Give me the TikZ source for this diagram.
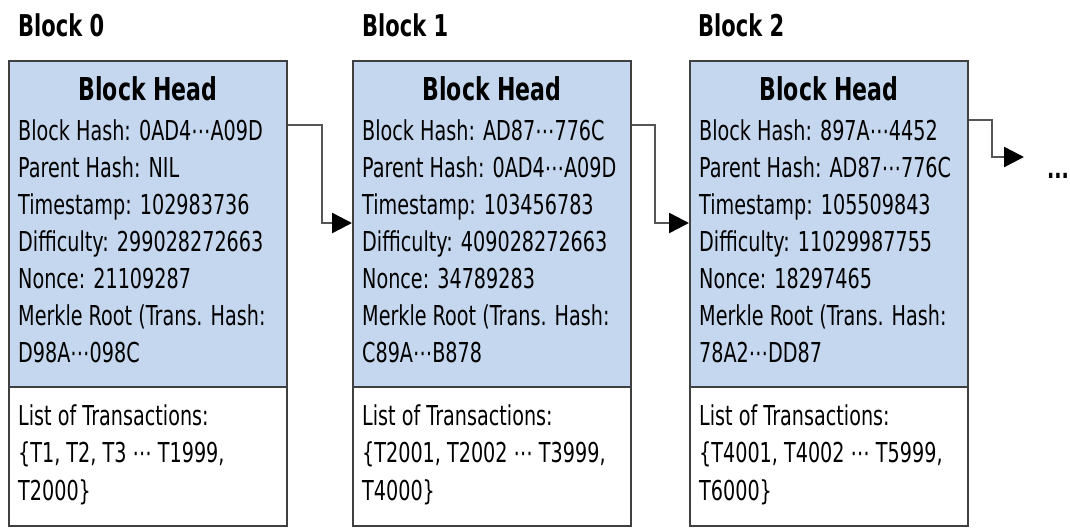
\documentclass[tikz,border=0pt]{standalone}
\usepackage{fontspec}
\setmainfont{DejaVu Sans}[FakeStretch=0.70]
\usepackage{tikz}
\usetikzlibrary{arrows.meta}

\definecolor{headblue}{HTML}{C5D7EE}
\definecolor{boxline}{HTML}{404040}
\definecolor{linkgray}{HTML}{555555}

\tikzset{
  headbox/.style={draw=boxline, fill=headblue, line width=2pt, minimum width=278pt,
    minimum height=326pt, anchor=north west, inner sep=0pt},
  listbox/.style={draw=boxline, fill=white, line width=2pt, minimum width=278pt,
    minimum height=139pt, anchor=north west, inner sep=0pt},
  blocklabel/.style={anchor=base west, inner sep=0pt, font=\fontsize{30}{36}\selectfont\bfseries},
  headtitle/.style={anchor=base, inner sep=0pt, font=\fontsize{31.5}{38}\selectfont\bfseries},
  % base anchor sits on the last line
  fieldtext/.style={anchor=base west, inner sep=0pt, align=left, font=\fontsize{27.4}{37}\selectfont},
  transtext/.style={anchor=base west, inner sep=0pt, align=left, font=\fontsize{27.4}{37.5}\selectfont},
  link/.style={draw=linkgray, line width=2.5pt, -{Triangle[length=20pt,width=20pt,color=black]}},
}

\begin{document}
\begin{tikzpicture}[x=1pt,y=-1pt]
  \useasboundingbox (0,0) rectangle (1070,527);

  % block 0
  \node[blocklabel] (lab0) at (18,37) {Block 0};
  \node[headbox] (head0) at (8,60) {};
  \node[listbox] (list0) at (8,386) {};
  \node[headtitle] (title0) at (head0.north |- 0,100) {Block Head};
  \node[fieldtext] (fields0) at (18,362) {Block Hash: 0AD4⋯A09D\\Parent Hash: NIL\\Timestamp: 102983736\\Difficulty: 299028272663\\Nonce: 21109287\\Merkle Root (Trans. Hash:\\D98A⋯098C};
  \node[transtext] (trans0) at (18,500) {List of Transactions:\\\{T1, T2, T3 ⋯ T1999,\\T2000\}};

  % block 1
  \node[blocklabel] (lab1) at (362,37) {Block 1};
  \node[headbox] (head1) at (352,60) {};
  \node[listbox] (list1) at (352,386) {};
  \node[headtitle] (title1) at (head1.north |- 0,100) {Block Head};
  \node[fieldtext] (fields1) at (362,362) {Block Hash: AD87⋯776C\\Parent Hash: 0AD4⋯A09D\\Timestamp: 103456783\\Difficulty: 409028272663\\Nonce: 34789283\\Merkle Root (Trans. Hash:\\C89A⋯B878};
  \node[transtext] (trans1) at (362,500) {List of Transactions:\\\{T2001, T2002 ⋯ T3999,\\T4000\}};

  % block 2
  \node[blocklabel] (lab2) at (698,37) {Block 2};
  \node[headbox] (head2) at (689,60) {};
  \node[listbox] (list2) at (689,386) {};
  \node[headtitle] (title2) at (head2.north |- 0,100) {Block Head};
  \node[fieldtext] (fields2) at (699,362) {Block Hash: 897A⋯4452\\Parent Hash: AD87⋯776C\\Timestamp: 105509843\\Difficulty: 11029987755\\Nonce: 18297465\\Merkle Root (Trans. Hash:\\78A2⋯DD87};
  \node[transtext] (trans2) at (699,500) {List of Transactions:\\\{T4001, T4002 ⋯ T5999,\\T6000\}};

  % links
  \node[inner sep=0pt, font=\fontsize{27.4}{30}\selectfont\bfseries] (more) at (1058,176) {...};
  \coordinate (moretip) at (1024,157);
  \draw[link] (head0.east |- 0,125) -- ++(34,0) |- (head1.west |- 0,223);
  \draw[link] (head1.east |- 0,125) -- ++(23,0) |- (head2.west |- 0,223);
  \draw[link] (head2.east |- 0,120) -- ++(23,0) |- (moretip);
\end{tikzpicture}
\end{document}
